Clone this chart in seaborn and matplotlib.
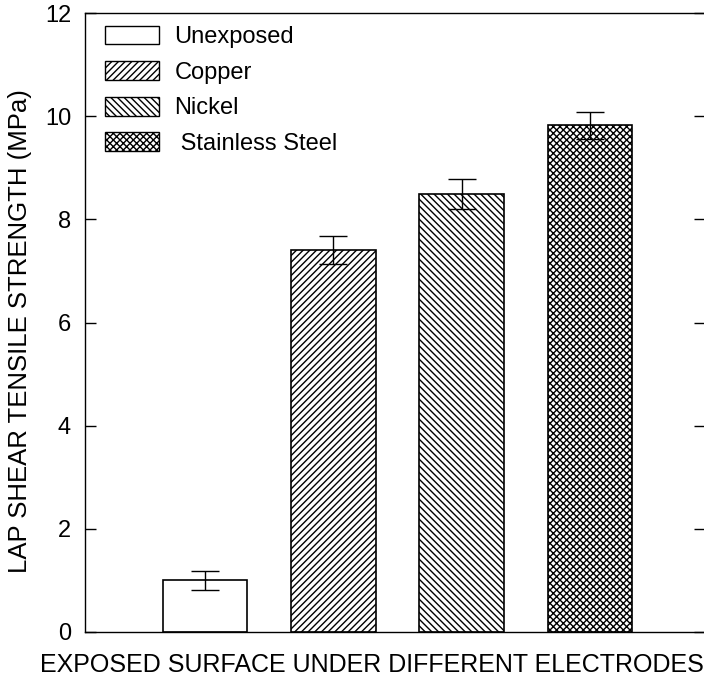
import matplotlib
matplotlib.use("Agg")
import matplotlib.pyplot as plt
import seaborn as sns
import numpy as np
from matplotlib.patches import Patch

sns.set_theme(style="ticks")
plt.rcParams["font.family"] = ["Liberation Sans", "DejaVu Sans"]
plt.rcParams["hatch.linewidth"] = 1.0
plt.rcParams["text.color"] = "black"
plt.rcParams["axes.labelcolor"] = "black"
plt.rcParams["ytick.color"] = "black"

categories = ["Unexposed", "Copper", "Nickel", "Stainless Steel"]
strength = [1.0, 7.4, 8.5, 9.82]
strength_err = [0.18, 0.27, 0.29, 0.27]
legend_labels = ["Unexposed", "Copper", "Nickel", " Stainless Steel"]
hatches = ["", "/////", "\\\\\\\\\\", "xxxxx"]

fig = plt.figure(figsize=(7.04, 6.85), dpi=100)
ax = fig.add_axes([85 / 704, 53 / 685, 620 / 704, 619 / 685])

sns.barplot(x=categories, y=strength, color="white", width=0.66,
            edgecolor="black", linewidth=1.2, ax=ax)
for bar, h in zip(ax.patches, hatches):
    bar.set_hatch(h)
    bar.set_facecolor("white")
    bar.set_edgecolor("black")

ax.errorbar(np.arange(len(categories)), strength, yerr=strength_err,
            fmt="none", ecolor="black", elinewidth=1.0, capsize=10, capthick=1.0)

ax.set_ylim(0, 12)
ax.set_xlim(-0.934, 3.895)
ax.set_yticks(np.arange(0, 13, 2))
ax.tick_params(axis="y", direction="in", length=8, width=1, labelsize=17,
               right=True, pad=10)
ax.tick_params(axis="x", bottom=False, labelbottom=False)
for s in ax.spines.values():
    s.set_linewidth(1.0)
    s.set_color("black")

ax.set_xlabel("")
fig.text(372 / 704, 1 - 665 / 685, "EXPOSED SURFACE UNDER DIFFERENT ELECTRODES",
         fontsize=18, ha="center", va="center")
fig.text(20 / 704, 1 - 331 / 685, "LAP SHEAR TENSILE STRENGTH (MPa)",
         fontsize=18.5, rotation=90, ha="center", va="center")

handles = [Patch(facecolor="white", edgecolor="black", hatch=h, linewidth=1.0)
           for h in hatches]
ax.legend(handles, legend_labels, loc="upper left", frameon=False, fontsize=17,
          handlelength=2.3, handleheight=0.85, labelspacing=0.55,
          borderaxespad=0.0, handletextpad=0.64, bbox_to_anchor=(0.017, 0.995))

plt.savefig("out.png", dpi=100)
plt.close(fig)
